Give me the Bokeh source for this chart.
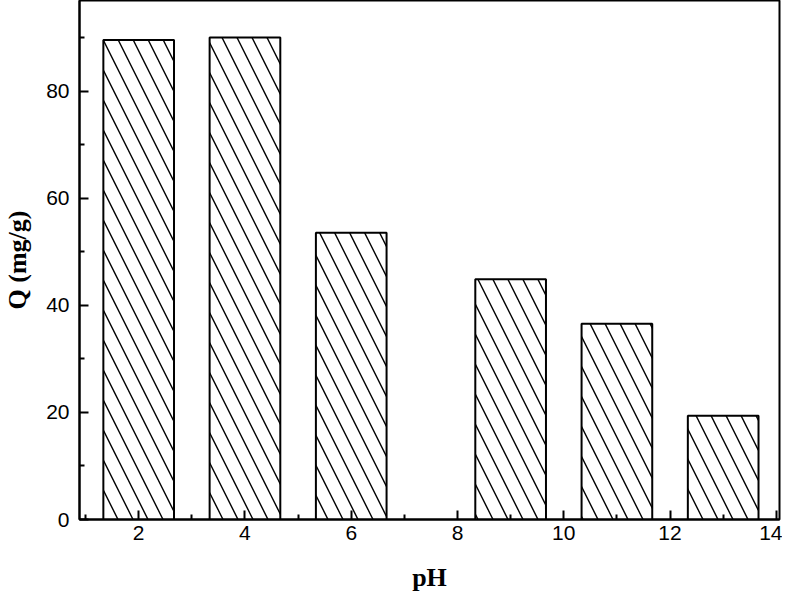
from bokeh.plotting import figure
from bokeh.models import ColumnDataSource, Range1d, FixedTicker
from bokeh.embed import file_html
from bokeh.resources import INLINE

ph = [2, 4, 6, 9, 11, 13]
q = [89.6, 90.1, 53.6, 44.9, 36.6, 19.4]
x_ticks = [2, 4, 6, 8, 10, 12, 14]
y_ticks = [0, 20, 40, 60, 80]

src = ColumnDataSource(data=dict(ph=ph, q=q))

p = figure(width=782, height=600, output_backend="svg", toolbar_location=None,
           x_range=Range1d(0.886, 14.06), y_range=Range1d(0, 97.0),
           min_border_left=67, min_border_right=3, min_border_top=0, min_border_bottom=81)

p.vbar(x="ph", top="q", bottom=0, width=1.33, source=src,
       fill_color="white", line_color="black", line_width=2,
       hatch_pattern="\\", hatch_scale=30, hatch_weight=1.4, hatch_color="black")

p.grid.visible = False
p.outline_line_color = "black"
p.outline_line_width = 2
p.outline_line_alpha = 1

for ax in (p.xaxis[0], p.yaxis[0]):
    ax.axis_line_width = 2
    ax.axis_line_color = "black"
    ax.major_tick_in = 9
    ax.major_tick_out = 0
    ax.minor_tick_in = 5
    ax.minor_tick_out = 0
    ax.major_tick_line_width = 2
    ax.minor_tick_line_width = 2
    ax.major_tick_line_color = "black"
    ax.minor_tick_line_color = "black"
    ax.major_label_text_font = "Liberation Sans"
    ax.major_label_text_font_size = "21px"
    ax.major_label_text_color = "black"
    ax.axis_label_text_font = "Liberation Serif"
    ax.axis_label_text_font_style = "bold"
    ax.axis_label_text_font_size = "26px"
    ax.axis_label_text_color = "black"

p.xaxis.ticker = FixedTicker(ticks=x_ticks, minor_ticks=[1, 3, 5, 7, 9, 11, 13])
p.yaxis.ticker = FixedTicker(ticks=y_ticks, minor_ticks=[10, 30, 50, 70, 90])
p.xaxis.major_label_standoff = 6
p.yaxis.major_label_standoff = 10

p.xaxis.axis_label = "pH"
p.xaxis.axis_label_standoff = 20
p.yaxis.axis_label = "Q (mg/g)"
p.yaxis.axis_label_standoff = 11

open("out.html", "w").write(file_html(p, INLINE))
